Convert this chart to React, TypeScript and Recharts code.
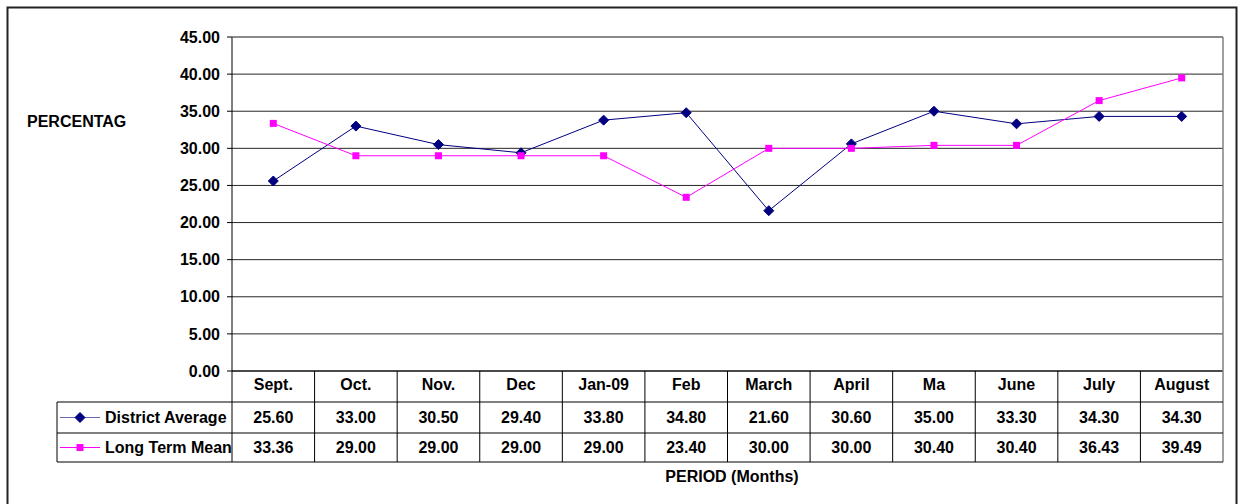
import { LineChart, Line, XAxis, YAxis, CartesianGrid } from 'recharts';

const months = ['Sept.', 'Oct.', 'Nov.', 'Dec', 'Jan-09', 'Feb', 'March', 'April', 'Ma', 'June', 'July', 'August'];
const districtAverage = [25.6, 33.0, 30.5, 29.4, 33.8, 34.8, 21.6, 30.6, 35.0, 33.3, 34.3, 34.3];
const longTermMean = [33.36, 29.0, 29.0, 29.0, 29.0, 23.4, 30.0, 30.0, 30.4, 30.4, 36.43, 39.49];
const yTicks = [0, 5, 10, 15, 20, 25, 30, 35, 40, 45];

const data = months.map((m, i) => ({ month: m, district: districtAverage[i], ltm: longTermMean[i] }));

const FONT = 'Arial, "Liberation Sans", sans-serif';
const NAVY = '#000080';
const MAGENTA = '#FF00FF';

const PLOT_LEFT = 232;
const PLOT_RIGHT = 1223;
const PLOT_TOP = 37;
const PLOT_BOTTOM = 371;
const COL_W = (PLOT_RIGHT - PLOT_LEFT) / months.length;
const ROW1 = 402;
const ROW2 = 433;
const ROW3 = 462;
const FS = 16;

function Diamond({ cx, cy }: any) {
  if (cx == null || cy == null) return null;
  const r = 5;
  return <path d={`M${cx},${cy - r}L${cx + r},${cy}L${cx},${cy + r}L${cx - r},${cy}Z`} fill={NAVY} stroke={NAVY} />;
}

function Square({ cx, cy }: any) {
  if (cx == null || cy == null) return null;
  const s = 3.5;
  return <rect x={cx - s} y={cy - s} width={s * 2} height={s * 2} fill={MAGENTA} />;
}

// each x tick draws one full column of the data table
function TableTick({ x, payload, index }: any) {
  const left = x - COL_W / 2;
  const txt = { fontFamily: FONT, fontSize: FS, fontWeight: 700, fill: '#000', textAnchor: 'middle' as const };
  return (
    <g>
      <line x1={left} y1={PLOT_BOTTOM} x2={left} y2={ROW3} stroke="#000" />
      <text x={x} y={390} {...txt}>{payload.value}</text>
      <text x={x} y={(ROW1 + ROW2) / 2 + 5.5} {...txt}>{districtAverage[index].toFixed(2)}</text>
      <text x={x} y={(ROW2 + ROW3) / 2 + 5.5} {...txt}>{longTermMean[index].toFixed(2)}</text>
    </g>
  );
}

export default function App() {
  const label = { fontFamily: FONT, fontSize: FS, fontWeight: 700, fill: '#000' };
  return (
    <div style={{ position: 'absolute', left: 0, top: 0, width: 1241, height: 504, background: '#fff', overflow: 'hidden' }}>
      <LineChart width={1241} height={504} data={data} margin={{ top: PLOT_TOP, right: 1241 - PLOT_RIGHT, left: 0, bottom: 0 }}>
        <CartesianGrid vertical={false} stroke="#000" strokeOpacity={0.85} />
        <XAxis
          dataKey="month"
          height={504 - PLOT_BOTTOM}
          padding={{ left: COL_W / 2, right: COL_W / 2 }}
          axisLine={{ stroke: '#000' }}
          tickLine={false}
          tick={<TableTick />}
          interval={0}
        />
        <YAxis
          width={PLOT_LEFT}
          domain={[0, 45]}
          ticks={yTicks}
          interval={0}
          tickFormatter={(v: number) => v.toFixed(2)}
          tick={label}
          tickSize={5}
          tickMargin={7}
          axisLine={{ stroke: '#000' }}
          tickLine={{ stroke: '#000' }}
        />
        <Line dataKey="district" stroke={NAVY} strokeWidth={1} dot={<Diamond />} isAnimationActive={false} />
        <Line dataKey="ltm" stroke={MAGENTA} strokeWidth={1} dot={<Square />} isAnimationActive={false} />
      </LineChart>
      <svg width={1241} height={504} style={{ position: 'absolute', left: 0, top: 0, pointerEvents: 'none' }}>
        <rect x={7.5} y={7.5} width={1229} height={520} fill="none" stroke="#222" strokeWidth={2} />
        <line x1={PLOT_LEFT} y1={PLOT_TOP} x2={PLOT_RIGHT} y2={PLOT_TOP} stroke="#808080" />
        <line x1={PLOT_RIGHT} y1={PLOT_TOP} x2={PLOT_RIGHT} y2={ROW3} stroke="#808080" strokeWidth={1.5} />
        <line x1={57} y1={ROW1} x2={PLOT_RIGHT} y2={ROW1} stroke="#000" />
        <line x1={57} y1={ROW2} x2={PLOT_RIGHT} y2={ROW2} stroke="#000" />
        <line x1={57} y1={ROW3} x2={PLOT_RIGHT} y2={ROW3} stroke="#000" />
        <line x1={57} y1={ROW1} x2={57} y2={ROW3} stroke="#000" />
        <line x1={60} y1={(ROW1 + ROW2) / 2} x2={100} y2={(ROW1 + ROW2) / 2} stroke={NAVY} strokeOpacity={0.6} />
        <Diamond cx={80} cy={(ROW1 + ROW2) / 2} />
        <line x1={60} y1={(ROW2 + ROW3) / 2} x2={100} y2={(ROW2 + ROW3) / 2} stroke={MAGENTA} />
        <Square cx={80} cy={(ROW2 + ROW3) / 2} />
        <text x={105} y={(ROW1 + ROW2) / 2 + 5.5} {...label}>District Average</text>
        <text x={105} y={(ROW2 + ROW3) / 2 + 5.5} {...label}>Long Term Mean</text>
        <text x={27} y={127} {...label}>PERCENTAG</text>
        <text x={732} y={482} {...label} textAnchor="middle">PERIOD (Months)</text>
      </svg>
    </div>
  );
}
